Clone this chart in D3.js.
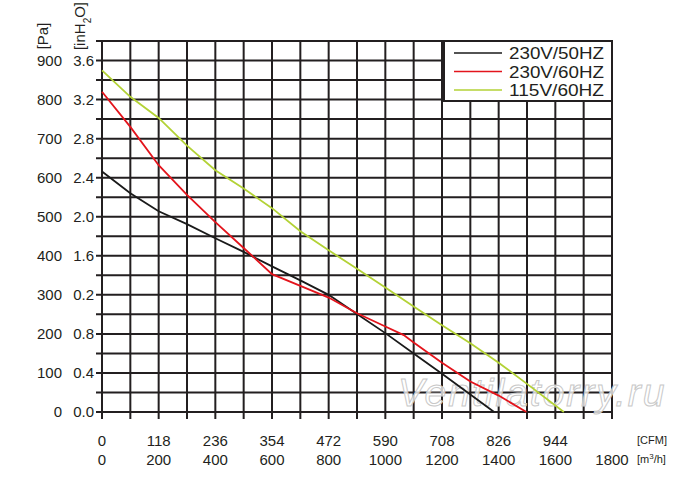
<!DOCTYPE html>
<html>
<head>
<meta charset="utf-8">
<script src="https://cdn.jsdelivr.net/npm/d3@7"></script>
<style>
  body { margin: 0; background: #fff; }
  text { font-family: "Liberation Sans", Arial, sans-serif; fill: #231f20; }
</style>
</head>
<body>
<script>
// valeurs (débit m3/h, pression Pa)
const flowTicks = [0, 200, 400, 600, 800, 1000, 1200, 1400, 1600, 1800];
const cfmLabels = ["0", "118", "236", "354", "472", "590", "708", "826", "944", ""];
const paTicks = [0, 100, 200, 300, 400, 500, 600, 700, 800, 900];
const inh2oLabels = ["0.0", "0.4", "0.8", "0.2", "1.6", "2.0", "2.4", "2.8", "3.2", "3.6"];

const curve230v50 = [[0, 616], [100, 560], [200, 514], [300, 481], [400, 445], [500, 410], [600, 373],
  [700, 337], [800, 300], [900, 251], [1000, 202], [1100, 150], [1200, 98], [1300, 45], [1384, 0]];
const curve230v60 = [[0, 820], [100, 730], [200, 632], [300, 556], [400, 486], [500, 420], [600, 353],
  [700, 323], [800, 293], [900, 253], [1000, 219], [1065, 197], [1100, 178], [1200, 126], [1300, 78],
  [1400, 42], [1498, 0]];
const curve115v60 = [[0, 875], [100, 807], [200, 753], [300, 682], [400, 619], [500, 572], [600, 522],
  [700, 463], [800, 414], [900, 367], [1000, 319], [1100, 270], [1200, 222], [1300, 176], [1400, 126],
  [1500, 72], [1630, 0]];

const seriesNames = ["230V/50HZ", "230V/60HZ", "115V/60HZ"];
const seriesColors = ["#1a1a1a", "#e3141c", "#b3d236"];
const seriesData = [curve230v50, curve230v60, curve115v60];

const width = 700, height = 492;
const svg = d3.select("body").append("svg")
  .attr("width", width)
  .attr("height", height);

const x = d3.scaleLinear().domain([0, 1800]).range([102, 612]);
const y = d3.scaleLinear().domain([0, 950]).range([412, 41]);
const gridColor = "#231f20";

// grille
const g = svg.append("g");
g.selectAll(".hline")
  .data(d3.range(0, 951, 50))
  .enter().append("line")
  .attr("x1", x(0) - 6).attr("x2", x(1800))
  .attr("y1", d => y(d)).attr("y2", d => y(d))
  .style("stroke", gridColor).style("stroke-width", 2);

g.selectAll(".vline")
  .data(d3.range(0, 1801, 100))
  .enter().append("line")
  .attr("x1", d => x(d)).attr("x2", d => x(d))
  .attr("y1", y(950)).attr("y2", y(0) + 7)
  .style("stroke", gridColor).style("stroke-width", 2);

// étiquettes Y
svg.selectAll(".pa")
  .data(paTicks)
  .enter().append("text")
  .attr("x", 62).attr("y", d => y(d) + 5)
  .attr("text-anchor", "end")
  .style("font-size", "15px")
  .text(d => d);

svg.selectAll(".inh2o")
  .data(paTicks)
  .enter().append("text")
  .attr("x", 94).attr("y", d => y(d) + 5)
  .attr("text-anchor", "end")
  .style("font-size", "15px")
  .text((d, i) => inh2oLabels[i]);

svg.append("text")
  .attr("transform", "translate(48,36) rotate(-90)")
  .attr("text-anchor", "middle")
  .style("font-size", "15px")
  .text("[Pa]");

const inh = svg.append("text")
  .attr("transform", "translate(85,26) rotate(-90)")
  .attr("text-anchor", "middle")
  .style("font-size", "15px");
inh.append("tspan").text("[inH");
inh.append("tspan").attr("baseline-shift", "sub").style("font-size", "10px").text("2");
inh.append("tspan").text("O]");

// étiquettes X
svg.selectAll(".cfm")
  .data(flowTicks)
  .enter().append("text")
  .attr("x", d => x(d)).attr("y", 446)
  .attr("text-anchor", "middle")
  .style("font-size", "15px")
  .text((d, i) => cfmLabels[i]);

svg.selectAll(".m3h")
  .data(flowTicks)
  .enter().append("text")
  .attr("x", d => x(d)).attr("y", 465)
  .attr("text-anchor", "middle")
  .style("font-size", "15px")
  .text(d => d);

svg.append("text")
  .attr("x", 637).attr("y", 444)
  .style("font-size", "11px")
  .text("[CFM]");

const m3 = svg.append("text")
  .attr("x", 637).attr("y", 463)
  .style("font-size", "11px");
m3.append("tspan").text("[m");
m3.append("tspan").attr("baseline-shift", "super").style("font-size", "8px").text("3");
m3.append("tspan").text("/h]");

// filigrane
svg.append("text")
  .attr("x", 398).attr("y", 406)
  .style("font-size", "39px")
  .style("font-style", "italic")
  .style("fill", "#ffffff")
  .style("fill-opacity", 0.75)
  .style("stroke", "#c8c8c8")
  .style("stroke-width", 1)
  .style("letter-spacing", "2px")
  .text("Ventilatorry.ru");

// courbes
const line = d3.line()
  .x(d => x(d[0]))
  .y(d => y(d[1]));

svg.selectAll(".curve")
  .data(seriesData)
  .enter().append("path")
  .attr("d", d => line(d))
  .style("fill", "none")
  .style("stroke", (d, i) => seriesColors[i])
  .style("stroke-width", 1.8);

// légende
svg.append("rect")
  .attr("x", 444).attr("y", 41)
  .attr("width", 168).attr("height", 60)
  .style("fill", "#fff")
  .style("stroke", gridColor)
  .style("stroke-width", 2);

const leg = svg.selectAll(".leg")
  .data(seriesNames)
  .enter().append("g")
  .attr("transform", (d, i) => `translate(0, ${53 + i * 18.5})`);

leg.append("line")
  .attr("x1", 454).attr("x2", 502)
  .style("stroke", (d, i) => seriesColors[i])
  .style("stroke-width", 1.5);

leg.append("text")
  .attr("x", 509).attr("y", 6)
  .attr("textLength", 95)
  .attr("lengthAdjust", "spacingAndGlyphs")
  .style("font-size", "16px")
  .text(d => d);
</script>
</body>
</html>
